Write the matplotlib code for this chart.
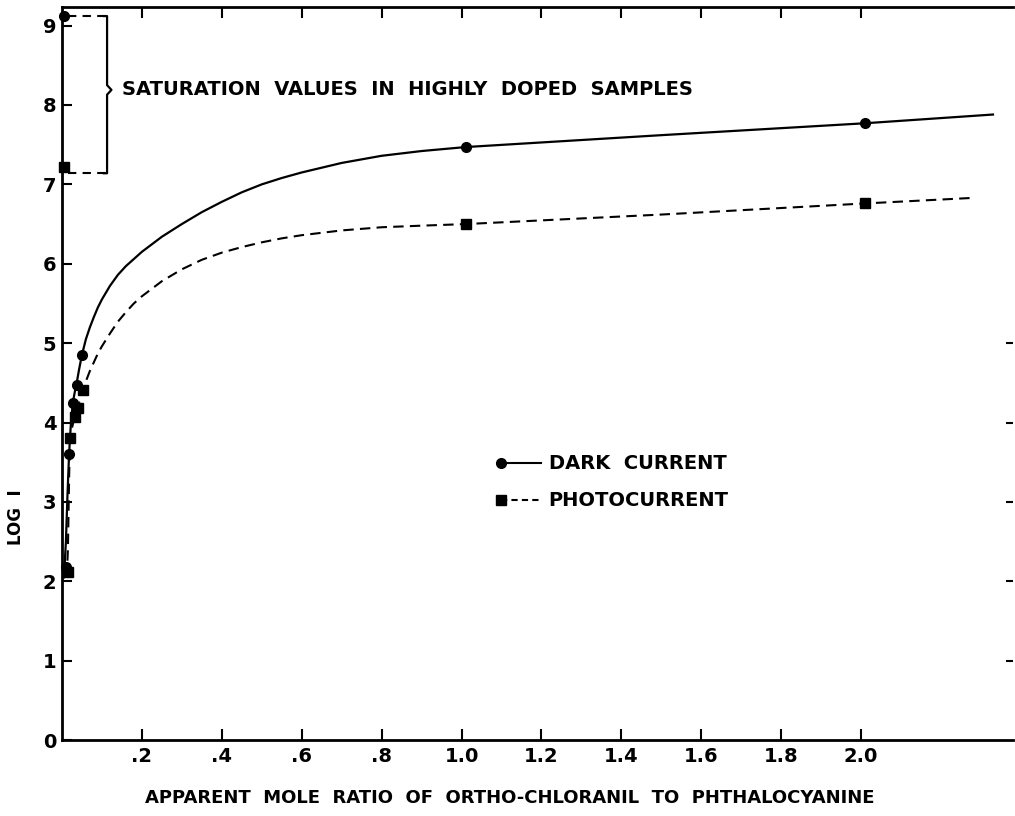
import numpy as np
import matplotlib
matplotlib.use('Agg')
import matplotlib.pyplot as plt

# measured points
dark_x = [0.01, 0.018, 0.027, 0.037, 0.05, 1.01, 2.01]
dark_y = [2.18, 3.61, 4.24, 4.47, 4.85, 7.47, 7.77]
photo_x = [0.015, 0.02, 0.032, 0.04, 0.053, 1.01, 2.01]
photo_y = [2.12, 3.80, 4.07, 4.18, 4.41, 6.50, 6.76]

# saturation values (highly doped samples)
sat_dark = 9.12
sat_photo = 7.22

# hand-drawn curves
dark_curve_x = [0.005, 0.01, 0.014, 0.018, 0.022, 0.027, 0.032, 0.037, 0.043, 0.05, 0.06, 0.07,
                0.08, 0.09, 0.1, 0.12, 0.14, 0.16, 0.18, 0.2, 0.25, 0.3, 0.35, 0.4, 0.45, 0.5,
                0.55, 0.6, 0.7, 0.8, 0.9, 1.01, 1.5, 2.01, 2.33]
dark_curve_y = [2.05, 2.5, 3.1, 3.61, 3.95, 4.24, 4.38, 4.5, 4.67, 4.85, 5.05, 5.2,
                5.33, 5.45, 5.55, 5.72, 5.86, 5.97, 6.06, 6.15, 6.34, 6.5, 6.65, 6.78, 6.9, 7.0,
                7.08, 7.15, 7.27, 7.36, 7.42, 7.47, 7.62, 7.77, 7.88]
photo_curve_x = [0.012, 0.015, 0.018, 0.02, 0.026, 0.032, 0.04, 0.046, 0.053, 0.06, 0.07, 0.08,
                 0.09, 0.1, 0.12, 0.14, 0.16, 0.18, 0.2, 0.25, 0.3, 0.35, 0.4, 0.45, 0.5,
                 0.55, 0.6, 0.7, 0.8, 0.9, 1.01, 1.5, 2.01, 2.28]
photo_curve_y = [2.05, 2.4, 3.3, 3.8, 3.95, 4.07, 4.2, 4.3, 4.41, 4.52, 4.65, 4.76,
                 4.87, 4.96, 5.12, 5.27, 5.39, 5.5, 5.59, 5.78, 5.93, 6.05, 6.14, 6.21, 6.27,
                 6.32, 6.36, 6.42, 6.46, 6.48, 6.50, 6.62, 6.76, 6.83]

xticks = [0.2, 0.4, 0.6, 0.8, 1.0, 1.2, 1.4, 1.6, 1.8, 2.0]
xtick_labels = ['.2', '.4', '.6', '.8', '1.0', '1.2', '1.4', '1.6', '1.8', '2.0']
yticks = list(range(10))

plt.rcParams['font.family'] = ['DejaVu Sans']
plt.rcParams['font.weight'] = 'bold'

fig = plt.figure(figsize=(10.15, 8.16), dpi=100)
ax = fig.add_axes([0.061, 0.093, 0.937, 0.898])

ax.plot(dark_curve_x, dark_curve_y, color='black', lw=1.6, clip_on=False)
ax.plot(photo_curve_x, photo_curve_y, color='black', lw=1.5, ls=(0, (5, 3)), clip_on=False)
ax.plot(dark_x, dark_y, 'o', color='black', ms=7, clip_on=False)
ax.plot(photo_x, photo_y, 's', color='black', ms=7, clip_on=False)
ax.plot([0.005], [sat_dark], 'o', color='black', ms=7, clip_on=False)
ax.plot([0.005], [sat_photo], 's', color='black', ms=7, clip_on=False)

# bracket for saturation values
ax.plot([0.015, 0.113], [sat_dark, sat_dark], color='black', lw=1.5, ls=(0, (4, 3)))
ax.plot([0.015, 0.113], [7.14, 7.14], color='black', lw=1.5, ls=(0, (4, 3)))
ax.plot([0.105, 0.113, 0.113, 0.124, 0.113, 0.113, 0.105],
        [9.12, 9.12, 8.25, 8.19, 8.13, 7.14, 7.14], color='black', lw=1.6)
ax.text(0.15, 8.19, 'SATURATION  VALUES  IN  HIGHLY  DOPED  SAMPLES',
        fontsize=14, va='center', ha='left')

# legend drawn by hand
ax.plot([1.098, 1.2], [3.49, 3.49], color='black', lw=1.5)
ax.plot([1.098], [3.49], 'o', color='black', ms=7)
ax.text(1.218, 3.49, 'DARK  CURRENT', fontsize=14, va='center', ha='left')
ax.plot([1.098, 1.2], [3.02, 3.02], color='black', lw=1.5, ls=(0, (3, 2)))
ax.plot([1.098], [3.02], 's', color='black', ms=7)
ax.text(1.218, 3.02, 'PHOTOCURRENT', fontsize=14, va='center', ha='left')

ax.set_xlim(0, 2.38)
ax.set_ylim(0, 9.23)
ax.spines['right'].set_visible(False)
for s in ['left', 'bottom', 'top']:
    ax.spines[s].set_linewidth(2)

ax.set_xticks(xticks)
ax.set_xticklabels(xtick_labels)
ax.set_yticks(yticks)
ax.tick_params(axis='x', direction='in', length=8, width=1.5, top=True, labelsize=14, pad=5)
ax.tick_params(axis='y', direction='in', length=7, width=1.5, labelsize=14, pad=4)

# short ticks on the open right side
ax2 = ax.twinx()
ax2.set_ylim(0, 9.23)
ax2.set_yticks([1, 2, 3, 4, 5])
ax2.tick_params(axis='y', direction='in', length=5, width=1.5, labelright=False)
for s in ax2.spines.values():
    s.set_visible(False)

fig.text(0.502, 0.022, 'APPARENT  MOLE  RATIO  OF  ORTHO-CHLORANIL  TO  PHTHALOCYANINE',
         fontsize=13, ha='center', va='center')
fig.text(0.016, 0.366, 'LOG  I', fontsize=12, rotation=90, ha='center', va='center')

fig.savefig('out.png', dpi=100)
